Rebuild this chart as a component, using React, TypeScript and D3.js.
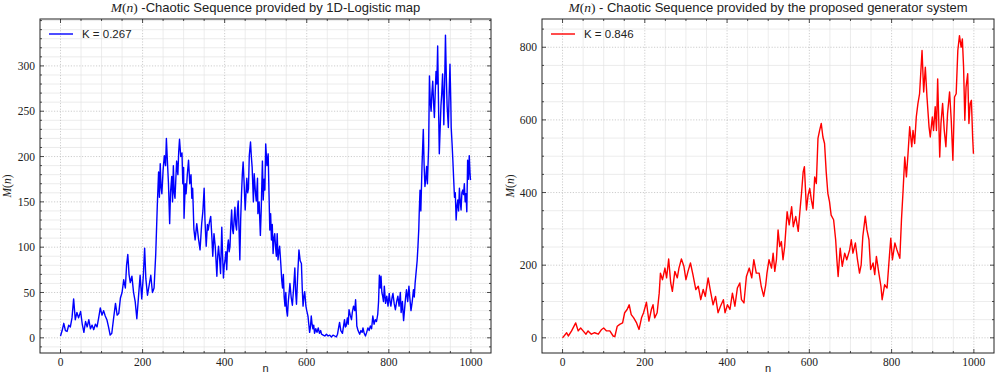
import React from "react";
import * as d3 from "d3";

// ---------- Data ----------
const logisticN = [0,4,8,12,16,20,24,28,32,36,40,44,49,53,57,61,65,69,73,77,81,85,89,93,97,101,105,109,113,117,121,125,129,134,138,142,146,150,154,158,161,164,167,170,174,178,182,186,190,194,198,202,205,208,212,216,220,224,228,232,236,239,241,243,245,247,250,253,256,258,261,263,266,268,271,273,275,277,279,281,283,286,288,290,293,296,298,300,301,304,306,309,312,315,318,320,322,325,328,332,336,340,344,347,350,352,355,358,360,363,366,369,371,374,377,379,381,383,385,388,390,393,395,397,399,401,403,405,407,409,411,413,415,417,419,421,423,425,427,429,431,433,435,437,439,441,443,445,447,450,452,454,456,458,460,463,465,467,470,472,475,477,480,481,484,487,489,490,492,494,496,498,500,503,506,508,510,512,514,516,518,520,522,524,526,528,530,532,534,537,539,541,543,545,547,549,551,553,555,557,559,562,565,568,571,573,575,578,581,584,587,589,591,593,595,598,600,603,605,607,609,611,613,615,617,619,622,625,628,631,634,636,640,644,648,652,656,660,664,668,672,675,678,680,683,687,690,692,694,696,699,701,703,706,709,711,714,717,719,721,722,725,729,732,735,737,740,743,746,749,752,755,758,761,764,767,770,773,775,777,779,781,783,785,787,789,792,795,798,801,803,805,808,810,813,816,819,822,825,828,830,833,836,839,841,843,846,849,851,854,857,860,862,864,866,867,869,871,873,874,876,878,881,884,886,888,890,892,894,897,899,901,903,905,907,909,911,913,915,917,919,921,923,925,927,929,931,933,934,936,938,940,942,944,945,947,949,951,952,954,956,958,960,962,964,966,968,970,972,974,976,978,980,982,984,986,988,990,992,994,996,998,999];
const logisticM = [2,8,16,8,7,14,12,22,43,20,28,22,29,15,6,18,12,20,10,14,9,15,12,22,33,25,30,24,20,12,3,5,20,38,25,27,44,50,64,55,80,92,70,61,68,50,40,21,45,69,43,70,99,65,47,58,69,50,55,92,148,183,155,192,166,159,185,201,190,220,190,171,126,160,178,150,190,160,154,175,195,180,205,219,200,204,170,188,132,170,159,180,196,170,180,154,165,120,108,126,110,97,126,140,165,130,101,125,119,128,134,110,90,115,101,85,68,90,101,85,71,122,90,66,80,86,95,75,100,108,95,101,125,141,120,115,130,144,125,119,140,151,120,86,130,158,180,194,175,141,159,176,160,165,201,216,200,188,150,181,160,151,176,137,150,113,140,159,195,152,175,163,214,190,203,160,119,137,108,125,93,110,115,100,90,115,86,95,101,80,64,55,70,45,35,50,30,24,40,49,60,45,36,55,77,50,37,70,97,85,82,55,35,45,51,35,30,24,15,6,12,24,15,10,14,5,10,6,11,5,8,4,3,2,4,2,3,1,3,2,1,4,12,17,8,5,14,20,12,13,22,15,31,25,20,28,35,30,42,25,13,8,4,8,6,11,5,2,6,11,8,13,10,24,15,20,18,26,40,69,55,68,50,46,40,57,38,46,35,49,40,35,45,49,38,31,40,46,35,50,28,40,19,35,45,53,40,57,45,30,40,53,45,60,70,75,85,101,120,137,163,140,192,230,190,167,175,189,170,211,289,260,250,270,283,260,243,270,294,280,322,260,203,230,256,270,291,260,235,280,334,290,256,240,232,270,302,260,232,215,196,175,155,160,130,145,152,140,165,150,141,160,163,158,170,150,159,139,196,175,201,180,174];

const generatorN = [0,10,14,22,32,38,44,50,57,62,70,78,87,95,100,107,115,123,127,133,139,146,151,157,162,167,173,180,186,192,197,204,210,216,220,224,230,235,238,243,249,253,258,263,267,273,279,283,289,295,300,305,311,317,324,330,336,342,347,354,359,366,372,378,384,391,395,401,407,413,419,425,431,435,441,447,454,460,465,471,478,483,489,494,497,502,508,512,516,520,524,528,532,536,540,546,551,557,561,567,573,577,581,585,588,593,597,601,605,609,613,617,621,625,629,633,637,641,645,649,653,659,664,667,670,675,680,686,691,698,702,706,712,717,722,726,730,736,740,745,749,755,759,763,769,774,777,783,789,794,798,802,808,813,820,824,828,832,836,840,844,849,852,856,860,864,868,874,878,882,886,891,894,899,902,906,909,912,917,920,924,928,932,936,941,945,949,953,957,961,965,969,972,975,978,981,985,988,991,994,997,999];
const generatorM = [0,14,5,19,41,19,27,19,10,19,10,14,10,23,27,19,19,5,3,32,37,41,69,78,91,64,55,41,23,55,69,98,46,78,91,55,69,123,178,160,192,165,217,151,128,183,165,192,217,197,160,183,206,174,133,142,105,133,114,165,133,91,114,69,87,105,69,91,78,123,87,137,151,105,96,169,192,165,215,178,178,142,114,146,178,215,192,233,183,215,297,251,265,215,251,347,311,361,306,334,293,347,398,457,471,352,393,411,379,356,443,425,549,571,590,553,535,457,398,375,338,325,270,215,169,247,197,233,215,242,270,233,261,215,178,201,279,335,297,270,188,206,174,224,178,142,105,146,137,215,274,215,261,242,219,325,407,498,443,508,581,526,571,535,608,645,672,791,677,745,663,581,553,608,571,636,571,713,498,590,645,571,526,617,677,599,489,663,672,791,832,800,823,745,599,690,727,590,645,654,553,507];

const xMajorTicks = [0, 200, 400, 600, 800, 1000];
const leftYMajorTicks = [0, 50, 100, 150, 200, 250, 300];
const rightYMajorTicks = [0, 200, 400, 600, 800];

const W = 996;
const H = 373;

const SERIF = "'Liberation Serif', 'DejaVu Serif', serif";
const SANS = "'Liberation Sans', 'DejaVu Sans', sans-serif";

type PanelProps = {
  left: number;
  right: number;
  top: number;
  bottom: number;
  yDomain: [number, number];
  yMajor: number[];
  yMinorStep: number;
  ns: number[];
  ms: number[];
  color: string;
  titleRest: string;
  legend: string;
  yLabelX: number;
};

function MathMn({ size }: { size: number }) {
  return (
    <>
      <tspan fontFamily={SERIF} fontStyle="italic" fontSize={size}>M</tspan>
      <tspan fontFamily={SERIF} fontSize={size}>(</tspan>
      <tspan fontFamily={SERIF} fontStyle="italic" fontSize={size}>n</tspan>
      <tspan fontFamily={SERIF} fontSize={size}>)</tspan>
    </>
  );
}

function Panel(p: PanelProps) {
  const x = d3.scaleLinear().domain([-49.95, 1048.95]).range([p.left, p.right]);
  const y = d3.scaleLinear().domain(p.yDomain).range([p.bottom, p.top]);

  const xMinor = d3.range(0, 1001, 50).filter((v) => v >= x.domain()[0] && v <= x.domain()[1]);
  const yMinor = d3
    .range(Math.ceil(p.yDomain[0] / p.yMinorStep) * p.yMinorStep, p.yDomain[1] + 0.001, p.yMinorStep)
    .filter((v) => v >= p.yDomain[0] && v <= p.yDomain[1]);
  const isXMajor = (v: number) => xMajorTicks.includes(v);
  const isYMajor = (v: number) => p.yMajor.includes(v);

  const pts: [number, number][] = p.ns.map((n, i) => [n, p.ms[i]]);
  const line = d3
    .line<[number, number]>()
    .x((d) => x(d[0]))
    .y((d) => y(d[1]));

  const cx = (p.left + p.right) / 2;
  const cy = (p.top + p.bottom) / 2;

  return (
    <g>
      {/* minor grid */}
      {xMinor.filter((v) => !isXMajor(v)).map((v) => (
        <line key={"gxm" + v} x1={x(v)} x2={x(v)} y1={p.top} y2={p.bottom} stroke="#e4e4e4" strokeWidth={0.7} />
      ))}
      {yMinor.filter((v) => !isYMajor(v)).map((v) => (
        <line key={"gym" + v} x1={p.left} x2={p.right} y1={y(v)} y2={y(v)} stroke="#e4e4e4" strokeWidth={0.7} />
      ))}
      {/* major grid */}
      {xMajorTicks.map((v) => (
        <line key={"gx" + v} x1={x(v)} x2={x(v)} y1={p.top} y2={p.bottom} stroke="#b8b8b8" strokeWidth={0.7} strokeDasharray="1.2,1.6" />
      ))}
      {p.yMajor.map((v) => (
        <line key={"gy" + v} x1={p.left} x2={p.right} y1={y(v)} y2={y(v)} stroke="#b8b8b8" strokeWidth={0.7} strokeDasharray="1.2,1.6" />
      ))}

      {/* data line */}
      <path d={line(pts) || ""} fill="none" stroke={p.color} strokeWidth={1.4} strokeLinejoin="round" />

      {/* ticks, inward on all sides */}
      {xMinor.map((v) => {
        const len = isXMajor(v) ? 4 : 2;
        return (
          <g key={"tx" + v}>
            <line x1={x(v)} x2={x(v)} y1={p.bottom} y2={p.bottom - len} stroke="#222" strokeWidth={0.8} />
            <line x1={x(v)} x2={x(v)} y1={p.top} y2={p.top + len} stroke="#222" strokeWidth={0.8} />
          </g>
        );
      })}
      {yMinor.map((v) => {
        const len = isYMajor(v) ? 4 : 2;
        return (
          <g key={"ty" + v}>
            <line x1={p.left} x2={p.left + len} y1={y(v)} y2={y(v)} stroke="#222" strokeWidth={0.8} />
            <line x1={p.right} x2={p.right - len} y1={y(v)} y2={y(v)} stroke="#222" strokeWidth={0.8} />
          </g>
        );
      })}

      {/* frame */}
      <rect x={p.left} y={p.top} width={p.right - p.left} height={p.bottom - p.top} fill="none" stroke="#222" strokeWidth={1} />

      {/* tick labels */}
      {xMajorTicks.map((v) => (
        <text key={"lx" + v} x={x(v)} y={p.bottom + 13} textAnchor="middle" fontFamily={SERIF} fontSize={11.5} fill="#222">
          {v}
        </text>
      ))}
      {p.yMajor.map((v) => (
        <text key={"ly" + v} x={p.left - 5} y={y(v)} dy="0.35em" textAnchor="end" fontFamily={SERIF} fontSize={11.5} fill="#222">
          {v}
        </text>
      ))}

      {/* axis labels */}
      <text x={cx} y={H - 1.5} textAnchor="middle" fontFamily={SANS} fontSize={11} fill="#222">
        n
      </text>
      <text transform={`translate(${p.yLabelX},${cy}) rotate(-90)`} textAnchor="middle" fill="#222">
        <MathMn size={11.5} />
      </text>

      {/* title */}
      <text x={cx} y={12} textAnchor="middle" fill="#222" fontFamily={SANS} fontSize={13}>
        <MathMn size={13.5} />
        <tspan fontFamily={SANS} fontSize={13}>{p.titleRest}</tspan>
      </text>

      {/* legend */}
      <line x1={p.left + 9} x2={p.left + 33} y1={34} y2={34} stroke={p.color} strokeWidth={1.4} />
      <text x={p.left + 42} y={38} fontFamily={SANS} fontSize={11.5} fill="#222">
        {p.legend}
      </text>
    </g>
  );
}

export default function App() {
  return (
    <div style={{ position: "absolute", left: 0, top: 0, width: W, height: H, background: "#fff" }}>
      <svg width={W} height={H} style={{ display: "block" }}>
        <rect x={0} y={0} width={W} height={H} fill="#fff" />
        <Panel
          left={40}
          right={491}
          top={19}
          bottom={353}
          yDomain={[-16.75, 351.75]}
          yMajor={leftYMajorTicks}
          yMinorStep={10}
          ns={logisticN}
          ms={logisticM}
          color="#0000ff"
          titleRest=" -Chaotic Sequence provided by 1D-Logistic map"
          legend="K = 0.267"
          yLabelX={11}
        />
        <Panel
          left={542}
          right={994}
          top={19}
          bottom={353}
          yDomain={[-41.8, 877.8]}
          yMajor={rightYMajorTicks}
          yMinorStep={50}
          ns={generatorN}
          ms={generatorM}
          color="#ff0000"
          titleRest=" - Chaotic Sequence provided by the proposed generator system"
          legend="K = 0.846"
          yLabelX={514}
        />
      </svg>
    </div>
  );
}
